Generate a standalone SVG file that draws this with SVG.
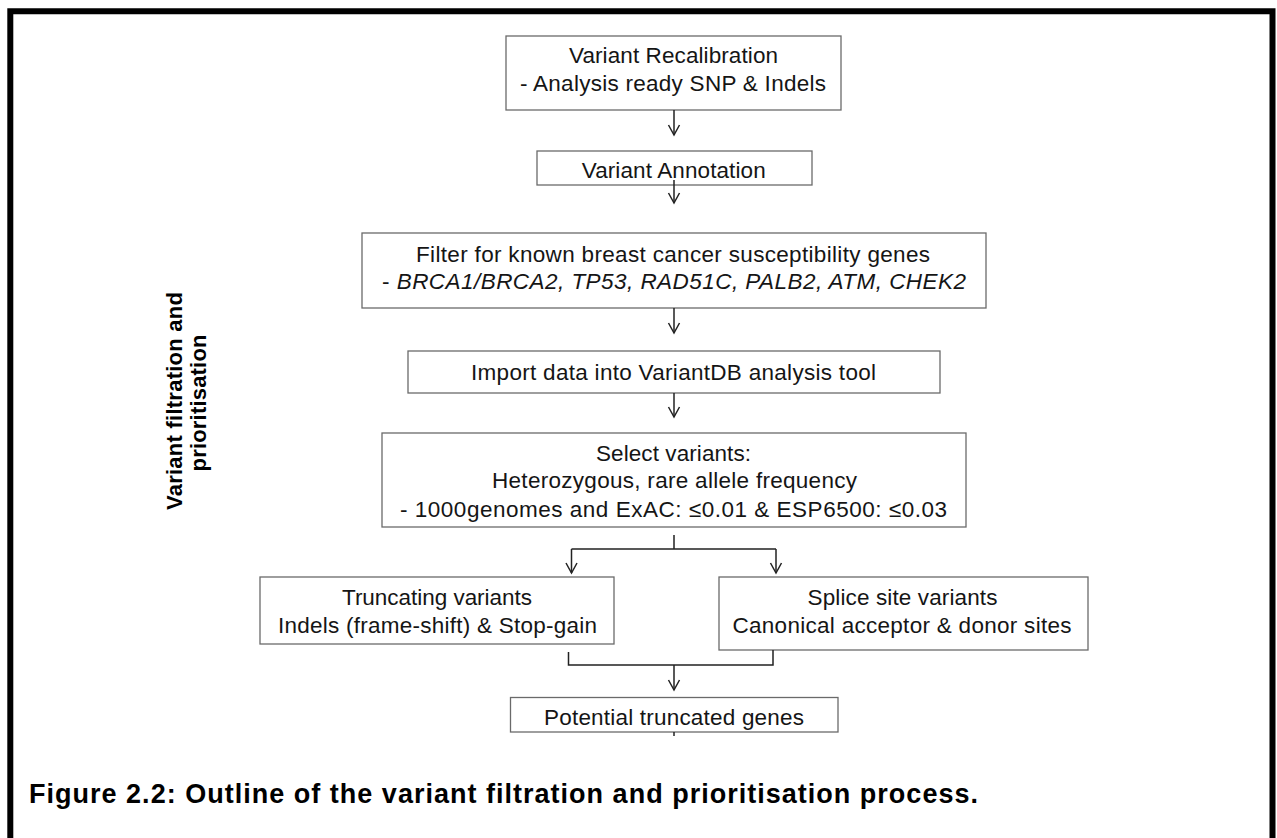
<svg xmlns="http://www.w3.org/2000/svg" width="1277" height="838" viewBox="0 0 1277 838">
<style>
.box{fill:#fff;stroke:#6a6a6a;stroke-width:1.3}
.t{font-family:"Liberation Sans",Arial,sans-serif;font-size:22.5px;fill:#151515;text-anchor:middle}
.i{font-style:italic}
.c{fill:none;stroke:#222;stroke-width:1.5}
.lab{font-family:"Liberation Sans",Arial,sans-serif;font-size:22px;font-weight:bold;fill:#000;text-anchor:middle}
.cap{font-family:"Liberation Sans",Arial,sans-serif;font-size:27px;font-weight:bold;fill:#000}
</style>
<defs>
<marker id="ah" viewBox="-12 -7 14 14" refX="0" refY="0" markerWidth="14" markerHeight="14" markerUnits="userSpaceOnUse" orient="auto">
<path d="M-10,-5.5 L0,0 L-10,5.5" fill="none" stroke="#222" stroke-width="1.5"/>
</marker>
</defs>
<rect width="1277" height="838" fill="#fff"/>
<path d="M10.3,845 V11.2 H1272.5 V845" fill="none" stroke="#000" stroke-width="6"/>

<g id="side-label">
<text class="lab" transform="translate(182,401) rotate(-90)" textLength="218">Variant filtration and</text>
<text class="lab" transform="translate(206,403) rotate(-90)" textLength="137">prioritisation</text>
</g>

<g id="n1">
<rect class="box" x="506" y="36" width="335" height="74"/>
<text class="t" x="673.5" y="63" textLength="209">Variant Recalibration</text>
<text class="t" x="673" y="91" textLength="306">- Analysis ready SNP &amp; Indels</text>
</g>
<g id="n2">
<rect class="box" x="537" y="151" width="275" height="34"/>
<text class="t" x="673.7" y="177.5" textLength="184">Variant Annotation</text>
</g>
<g id="n3">
<rect class="box" x="362" y="233" width="624" height="75"/>
<text class="t" x="673" y="262" textLength="514">Filter for known breast cancer susceptibility genes</text>
<text class="t" x="674" y="289" textLength="584">- <tspan class="i">BRCA1/BRCA2, TP53, RAD51C, PALB2, ATM, CHEK2</tspan></text>
</g>
<g id="n4">
<rect class="box" x="408" y="351" width="532" height="42"/>
<text class="t" x="673.5" y="380" textLength="405">Import data into VariantDB analysis tool</text>
</g>
<g id="n5">
<rect class="box" x="382" y="433" width="584" height="94"/>
<text class="t" x="673.5" y="461" textLength="155">Select variants:</text>
<text class="t" x="674.5" y="488" textLength="365">Heterozygous, rare allele frequency</text>
<text class="t" x="673.5" y="517" textLength="547">- 1000genomes and ExAC: ≤0.01 &amp;  ESP6500: ≤0.03</text>
</g>
<g id="n6">
<rect class="box" x="260" y="577" width="354" height="67"/>
<text class="t" x="437" y="605" textLength="190">Truncating variants</text>
<text class="t" x="437.5" y="633" textLength="319">Indels (frame-shift) &amp; Stop-gain</text>
</g>
<g id="n7">
<rect class="box" x="719" y="577" width="369" height="73"/>
<text class="t" x="902.5" y="605" textLength="190">Splice site variants</text>
<text class="t" x="902" y="633" textLength="339">Canonical acceptor &amp; donor sites</text>
</g>
<g id="n8">
<rect class="box" x="510.5" y="697.5" width="327.5" height="34.5"/>
<text class="t" x="674" y="725" textLength="260">Potential truncated genes</text>
</g>

<g id="connectors">
<path class="c" d="M674,110 V135" marker-end="url(#ah)"/>
<path class="c" d="M674,180 V203" marker-end="url(#ah)"/>
<path class="c" d="M674,308 V333" marker-end="url(#ah)"/>
<path class="c" d="M674,393 V417" marker-end="url(#ah)"/>
<path class="c" d="M674,535 V549 M571.5,549 H776"/>
<path class="c" d="M571.5,549 V573" marker-end="url(#ah)"/>
<path class="c" d="M776,549 V573" marker-end="url(#ah)"/>
<path class="c" d="M568.5,652 V665 H773 V650"/>
<path class="c" d="M674,665 V690" marker-end="url(#ah)"/>
<path class="c" d="M674,732 V736"/>
</g>

<g id="caption">
<text class="cap" x="29" y="803" textLength="949">Figure 2.2: Outline of the variant filtration and prioritisation process.</text>
</g>
</svg>
